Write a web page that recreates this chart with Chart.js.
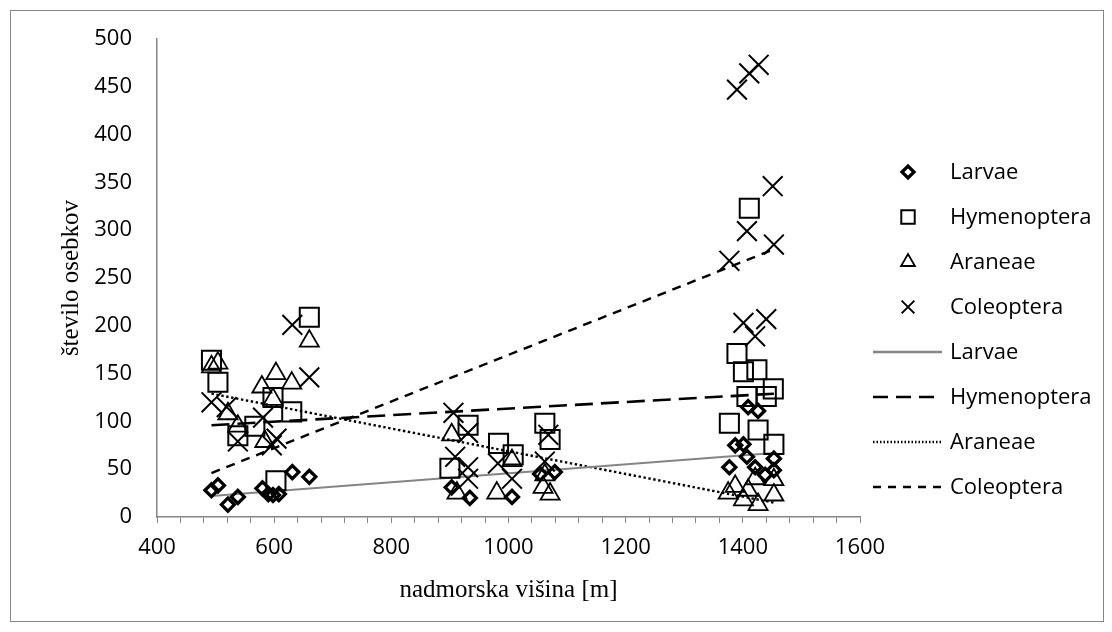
<!DOCTYPE html>
<html>
<head>
<meta charset="utf-8">
<script src="https://cdn.jsdelivr.net/npm/chart.js@4"></script>
<style>
  html, body { margin: 0; padding: 0; background: #fff; }
  #wrap { position: relative; width: 1112px; height: 632px; }
</style>
</head>
<body>
<div id="wrap"><canvas id="myChart" width="1112" height="632"></canvas></div>
<script>
// nadmorska višina [m] in število osebkov, odčitano s slike
const larvaeAlt = [493, 504, 521, 538, 580, 590, 598, 608, 631, 660, 903, 934, 1006, 1054, 1079, 1377, 1387, 1401, 1407, 1409, 1421, 1426, 1438, 1453, 1453];
const larvaeVal = [28, 33, 13, 21, 30, 24, 23, 24, 47, 42, 31, 20, 21, 45, 47, 52, 75, 76, 63, 115, 52, 111, 44, 61, 49];

const hymAlt = [493, 504, 538, 567, 598, 603, 630, 660, 900, 931, 983, 1008, 1062, 1071, 1377, 1390, 1401, 1407, 1411, 1424, 1426, 1440, 1452, 1453];
const hymVal = [164, 141, 85, 95, 125, 38, 110, 209, 51, 96, 77, 65, 98, 81, 98, 171, 152, 126, 323, 154, 91, 126, 134, 76];

const araAlt = [493, 504, 521, 538, 579, 584, 598, 603, 630, 660, 903, 912, 980, 1006, 1059, 1062, 1071, 1375, 1387, 1401, 1409, 1421, 1426, 1453, 1453];
const araVal = [157, 161, 108, 95, 136, 79, 123, 150, 140, 184, 86, 25, 25, 59, 31, 44, 24, 25, 32, 18, 28, 40, 13, 39, 23];

const colAlt = [493, 519, 538, 581, 596, 604, 631, 660, 906, 909, 931, 931, 931, 982, 1006, 1062, 1068, 1377, 1390, 1401, 1407, 1411, 1421, 1427, 1440, 1451, 1453];
const colVal = [120, 115, 79, 104, 75, 82, 201, 146, 109, 63, 88, 52, 40, 56, 40, 58, 86, 268, 447, 203, 299, 464, 189, 473, 207, 346, 285];

// linearni trendi (začetek in konec)
const trendAlt = [493, 1453];
const larvaeTrend = [22, 67];
const hymTrend = [96, 129];
const araTrend = [129, 15];
const colTrend = [46, 280];

const seriesNames = ["Larvae", "Hymenoptera", "Araneae", "Coleoptera"];

function pts(alt, val) {
  return alt.map((x, i) => ({ x: x, y: val[i] }));
}

const markerStyles = [
  { pointStyle: "rectRot", radius: 6.5, borderWidth: 3.3, legendRadius: 6 },
  { pointStyle: "rect", radius: 13.5, borderWidth: 2, legendRadius: 9.5 },
  { pointStyle: "triangle", radius: 11, borderWidth: 1.8, legendRadius: 8 },
  { pointStyle: "crossRot", radius: 14, borderWidth: 2, legendRadius: 9 }
];

const trendStyles = [
  { color: "#858585", width: 2, dash: [] },
  { color: "#000", width: 2.6, dash: [18, 8] },
  { color: "#000", width: 2.4, dash: [2.4, 2.6] },
  { color: "#000", width: 2.4, dash: [9, 7] }
];

const scatterData = [pts(larvaeAlt, larvaeVal), pts(hymAlt, hymVal), pts(araAlt, araVal), pts(colAlt, colVal)];
const trendData = [larvaeTrend, hymTrend, araTrend, colTrend].map(t => pts(trendAlt, t));

let datasets = [];
trendData.forEach((d, i) => {
  datasets.push({
    type: "line",
    label: seriesNames[i],
    data: d,
    borderColor: trendStyles[i].color,
    borderWidth: trendStyles[i].width,
    borderDash: trendStyles[i].dash,
    pointRadius: 0,
    fill: false,
    order: 1
  });
});
scatterData.forEach((d, i) => {
  datasets.push({
    type: "scatter",
    label: seriesNames[i],
    data: d,
    pointStyle: markerStyles[i].pointStyle,
    pointRadius: markerStyles[i].radius,
    pointBorderWidth: markerStyles[i].borderWidth,
    pointBorderColor: "#000",
    pointBackgroundColor: "rgba(255,255,255,0)",
    borderColor: "#000",
    backgroundColor: "rgba(255,255,255,0)",
    order: 0
  });
});

// okvir in bela podlaga
const framePlugin = {
  id: "frame",
  beforeDraw(chart) {
    const ctx = chart.ctx;
    ctx.save();
    ctx.fillStyle = "#fff";
    ctx.fillRect(0, 0, chart.width, chart.height);
    ctx.strokeStyle = "#868686";
    ctx.lineWidth = 1;
    ctx.strokeRect(10.5, 10.5, 1093, 611);
    ctx.restore();
  }
};

// legenda kot v Excelu: najprej oznake, nato trendne črte
const legendPlugin = {
  id: "excelLegend",
  afterDraw(chart) {
    const ctx = chart.ctx;
    const top = 172, step = 45, textX = 950;
    ctx.save();
    ctx.font = "22px 'Open Sans'";
    ctx.textBaseline = "middle";
    for (let i = 0; i < 4; i++) {
      const y = top + step * i;
      const m = markerStyles[i];
      ctx.strokeStyle = "#000";
      ctx.fillStyle = "rgba(255,255,255,0)";
      ctx.lineWidth = m.borderWidth;
      ctx.setLineDash([]);
      Chart.helpers.drawPoint(ctx, { pointStyle: m.pointStyle, radius: m.legendRadius, borderWidth: m.borderWidth, rotation: 0 }, 908, y);
      ctx.fillStyle = "#000";
      ctx.fillText(seriesNames[i], textX, y + 1);
    }
    for (let i = 0; i < 4; i++) {
      const y = top + step * (i + 4);
      const t = trendStyles[i];
      ctx.beginPath();
      ctx.strokeStyle = t.color;
      ctx.lineWidth = i === 0 ? 2.5 : 2.4;
      ctx.setLineDash(i === 1 ? [15, 8] : i === 3 ? [8, 7] : i === 2 ? [1.5, 2] : []);
      ctx.moveTo(873, y);
      ctx.lineTo(942, y);
      ctx.stroke();
      ctx.setLineDash([]);
      ctx.fillStyle = "#000";
      ctx.fillText(seriesNames[i], textX, y + 1);
    }
    ctx.restore();
  }
};

new Chart(document.getElementById("myChart").getContext("2d"), {
  type: "scatter",
  data: { datasets: datasets },
  plugins: [framePlugin, legendPlugin],
  options: {
    responsive: false,
    animation: false,
    devicePixelRatio: 1,
    layout: { padding: { left: 0, right: 252, top: 39, bottom: 0 } },
    plugins: {
      legend: { display: false },
      tooltip: { enabled: false }
    },
    scales: {
      x: {
        type: "linear",
        min: 400,
        max: 1600,
        afterFit: s => { s.height = 115; },
        ticks: {
          stepSize: 40,
          autoSkip: false,
          maxRotation: 0,
          color: "#000",
          font: { family: "'Open Sans'", size: 22 },
          padding: 12,
          callback: v => (v % 200 === 0 ? v : "")
        },
        grid: { drawOnChartArea: false, drawTicks: true, tickLength: 6, color: "#868686", lineWidth: 1 },
        border: { color: "#868686", width: 1.5 },
        title: {
          display: true,
          text: "nadmorska višina [m]",
          color: "#000",
          font: { family: "'Liberation Serif'", size: 25 },
          padding: { top: 0, bottom: 27 }
        }
      },
      y: {
        min: 0,
        max: 500,
        afterFit: s => { s.width = 157; },
        ticks: {
          stepSize: 50,
          color: "#000",
          font: { family: "'Open Sans'", size: 22 },
          padding: 25
        },
        grid: { drawOnChartArea: false, drawTicks: false },
        border: { color: "#868686", width: 1.5 },
        title: {
          display: true,
          text: "število osebkov",
          color: "#000",
          font: { family: "'Liberation Serif'", size: 25 },
          padding: { top: 56, bottom: 0 }
        }
      }
    }
  }
});
</script>
</body>
</html>
